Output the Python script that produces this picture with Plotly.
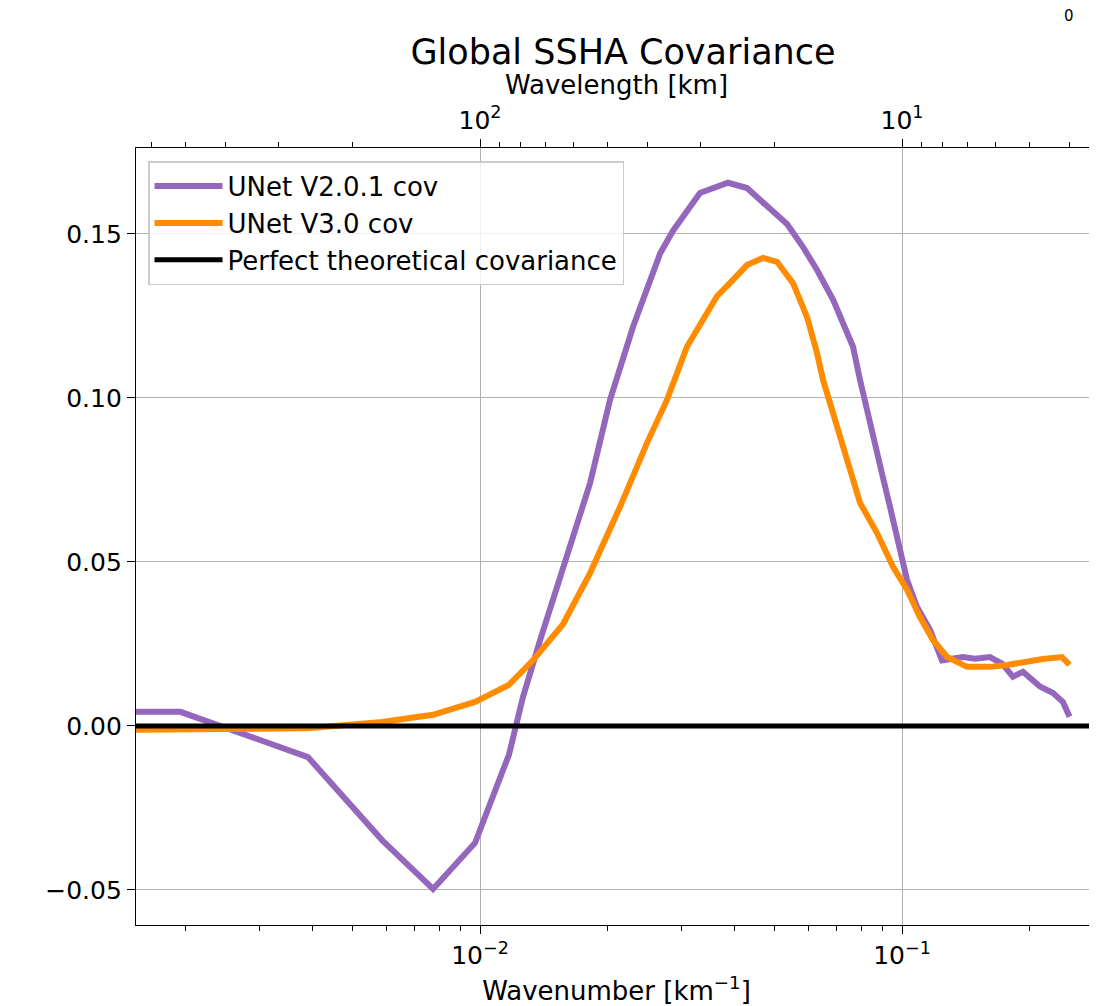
import plotly.graph_objects as go

# ---------------- data ----------------
# wavenumber [km^-1] and covariance for UNet V2.0.1
v2_k = [0.00153, 0.00195, 0.00391, 0.00586, 0.00774, 0.00973, 0.01171, 0.01264,
        0.01387, 0.01590, 0.01823, 0.02033, 0.02305, 0.02671, 0.02867, 0.03321,
        0.03870, 0.04292, 0.04867, 0.05340, 0.05828, 0.06290, 0.06864, 0.07655,
        0.07953, 0.08173, 0.08536, 0.08964, 0.09366, 0.09783, 0.1028, 0.1085,
        0.1165, 0.1244, 0.1394, 0.1489, 0.1616,
        0.1726, 0.1832, 0.1935, 0.2123, 0.2280, 0.2407, 0.2495]
v2_cov = [0.0043, 0.0043, -0.0095, -0.0348, -0.0497, -0.0357, -0.0088, 0.0088,
          0.026, 0.0506, 0.074, 0.0994, 0.1217, 0.144, 0.151, 0.1625,
          0.1656, 0.164, 0.158, 0.153, 0.146, 0.139, 0.130, 0.1156,
          0.1055, 0.0994, 0.089, 0.077, 0.0668, 0.0558, 0.0445, 0.0363,
          0.0293, 0.020, 0.021, 0.0205, 0.021,
          0.019, 0.015, 0.0165, 0.012, 0.010, 0.0073, 0.0028]

# wavenumber [km^-1] and covariance for UNet V3.0
v3_k = [0.00153, 0.00195, 0.00391, 0.00586, 0.00774, 0.00973, 0.01171, 0.01335,
        0.01573, 0.01823, 0.02147, 0.02488, 0.02774, 0.03093, 0.03644, 0.03977,
        0.04292, 0.04685, 0.05057, 0.05518, 0.05955, 0.06290, 0.06500, 0.06864,
        0.07406, 0.07953, 0.08728, 0.09522, 0.1028, 0.1103, 0.1184, 0.1279,
        0.1426, 0.1616, 0.1773, 0.1935, 0.2158, 0.2393, 0.2495]
v3_cov = [-0.0012, -0.0011, -0.0007, 0.0012, 0.0034, 0.0073, 0.0125, 0.020,
          0.031, 0.0466, 0.0668, 0.0863, 0.0994, 0.1156, 0.131, 0.136,
          0.1405, 0.1427, 0.1415, 0.135, 0.1247, 0.1137, 0.1055, 0.0954,
          0.081, 0.068, 0.0588, 0.0485, 0.0415, 0.0332, 0.0262, 0.021,
          0.018, 0.018, 0.0186, 0.0195, 0.0204, 0.021, 0.0186]

# perfect theoretical covariance (zero everywhere)
perfect_k = [0.001, 0.5]
perfect_cov = [0.0, 0.0]

# axis ticks
y_ticks = [-0.05, 0.0, 0.05, 0.10, 0.15]
k_major = [0.01, 0.1]
k_major_text = ["10<sup>−2</sup>", "10<sup>−1</sup>"]
k_minor = [0.002, 0.003, 0.004, 0.005, 0.006, 0.007, 0.008, 0.009,
           0.02, 0.03, 0.04, 0.05, 0.06, 0.07, 0.08, 0.09, 0.2]
wl_major = [100, 10]
wl_major_text = ["10<sup>2</sup>", "10<sup>1</sup>"]
wl_minor = [600, 500, 400, 300, 200, 90, 80, 70, 60, 50, 40, 30, 20,
            9, 8, 7, 6, 5, 4]

x_range_log = [-2.8152, -0.5379]
y_range = [-0.0607, 0.1762]

FONT = "DejaVu Sans"
W, H = 1089, 998  # page body has an 8px margin

fig = go.Figure()
fig.add_trace(go.Scatter(x=v2_k, y=v2_cov, mode="lines", name="UNet V2.0.1 cov",
                         line=dict(color="#9467bd", width=6)))
fig.add_trace(go.Scatter(x=v3_k, y=v3_cov, mode="lines", name="UNet V3.0 cov",
                         line=dict(color="#ff8c00", width=6)))
fig.add_trace(go.Scatter(x=perfect_k, y=perfect_cov, mode="lines",
                         name="Perfect theoretical covariance",
                         line=dict(color="black", width=5), xaxis="x2"))

fig.update_layout(
    width=W, height=H, autosize=False,
    margin=dict(l=128, r=0, t=140, b=81, pad=0),
    paper_bgcolor="white", plot_bgcolor="white",
    font=dict(family=FONT, color="black", size=25),
    title=dict(text="Global SSHA Covariance", x=615 / W, y=1 - 44 / H,
               xref="container", yref="container", xanchor="center", yanchor="middle",
               font=dict(size=35, family=FONT, color="black")),
    showlegend=True,
    legend=dict(x=0.0125, y=0.983, xanchor="left", yanchor="top",
                bgcolor="rgba(255,255,255,0.8)", bordercolor="#cccccc", borderwidth=1.5,
                font=dict(size=26, family=FONT), itemwidth=68),
    xaxis=dict(type="log", range=x_range_log, showline=True, linecolor="black",
               linewidth=1.3, mirror=False, ticks="outside", ticklen=8, tickwidth=1.3,
               tickcolor="black", tickmode="array", tickvals=k_major,
               ticktext=k_major_text, showgrid=True, gridcolor="#b0b0b0",
               gridwidth=1.3, zeroline=False,
               minor=dict(tickmode="array", tickvals=k_minor, ticks="outside",
                          ticklen=5, tickwidth=1, tickcolor="black", showgrid=False),
               title=dict(text="Wavenumber [km<sup>−1</sup>]", standoff=14,
                          font=dict(size=26, family=FONT))),
    xaxis2=dict(type="log", range=x_range_log, overlaying="x", side="top",
                showline=True, linecolor="black", linewidth=1.3, ticks="outside",
                ticklen=8, tickwidth=1.3, tickcolor="black", tickmode="array",
                tickvals=[1 / w for w in wl_major], ticktext=wl_major_text,
                showgrid=False, zeroline=False,
                minor=dict(tickmode="array", tickvals=[1 / w for w in wl_minor],
                           ticks="outside", ticklen=5, tickwidth=1,
                           tickcolor="black", showgrid=False),
                title=dict(text="Wavelength [km]", standoff=0,
                           font=dict(size=26, family=FONT))),
    yaxis=dict(range=y_range, showline=True, linecolor="black", linewidth=1.3,
               ticks="outside", ticklen=8, tickwidth=1.3, tickcolor="black",
               tickmode="array", tickvals=y_ticks, tickformat=".2f",
               showgrid=True, gridcolor="#b0b0b0", gridwidth=1.3, zeroline=False),
    annotations=[dict(text="0", x=(1069 - 136) / 961, y=(925 - 16) / 777,
                      xref="paper", yref="paper", showarrow=False, xanchor="center",
                      yanchor="middle", font=dict(size=15, family=FONT))],
)

fig.write_html("out.html")
